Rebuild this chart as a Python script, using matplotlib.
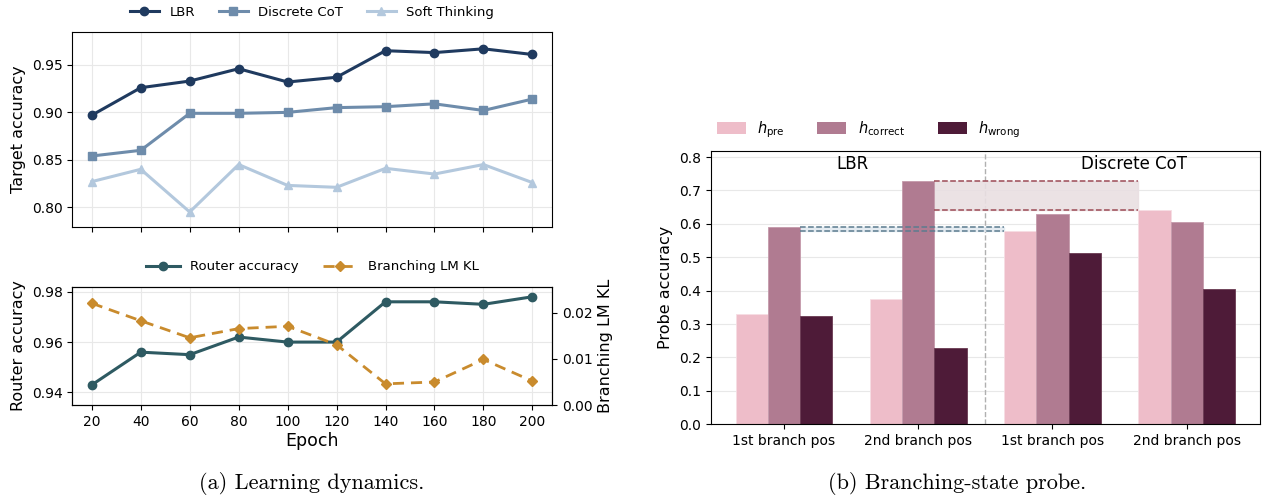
import numpy as np
import matplotlib.pyplot as plt
from matplotlib.patches import Patch

# ---- data ----
epochs = [20, 40, 60, 80, 100, 120, 140, 160, 180, 200]
lbr_acc = [0.897, 0.926, 0.933, 0.946, 0.932, 0.937, 0.965, 0.963, 0.967, 0.961]
cot_acc = [0.854, 0.860, 0.899, 0.899, 0.900, 0.905, 0.906, 0.909, 0.902, 0.914]
soft_acc = [0.827, 0.840, 0.795, 0.845, 0.823, 0.821, 0.841, 0.835, 0.845, 0.826]

router_acc = [0.943, 0.956, 0.955, 0.962, 0.960, 0.960, 0.976, 0.976, 0.975, 0.978]
branch_kl = [0.0221, 0.0183, 0.0146, 0.0166, 0.0171, 0.0131, 0.0046, 0.0050, 0.0099, 0.0052]

probe_groups = ["1st branch pos", "2nd branch pos", "1st branch pos", "2nd branch pos"]
h_pre = [0.331, 0.376, 0.579, 0.640]
h_correct = [0.592, 0.728, 0.629, 0.606]
h_wrong = [0.324, 0.228, 0.514, 0.405]

# ---- style ----
c_lbr, c_cot, c_soft = "#1f3a5f", "#6e8cab", "#b3c8dd"
c_router, c_kl = "#2e5a62", "#c98b2d"
c_pre, c_corr, c_wrong = "#eebdc9", "#b07b91", "#4e1b38"
grid_kw = dict(color="#e8e8e8", linewidth=0.8)

fig = plt.figure(figsize=(12.63, 4.98), dpi=100)

# ---- (a) top: target accuracy ----
ax1 = fig.add_axes([0.0572, 0.5448, 0.3798, 0.3915])
ax1.plot(epochs, lbr_acc, "-o", color=c_lbr, lw=2.2, ms=6, label="LBR")
ax1.plot(epochs, cot_acc, "-s", color=c_cot, lw=2.2, ms=6, label="Discrete CoT")
ax1.plot(epochs, soft_acc, "-^", color=c_soft, lw=2.2, ms=6, label="Soft Thinking")
ax1.set_xlim(12, 208)
ax1.set_ylim(0.7795, 0.985)
ax1.set_xticks(epochs)
ax1.set_xticklabels([])
ax1.set_yticks([0.80, 0.85, 0.90, 0.95])
ax1.set_ylabel("Target accuracy", fontsize=11.5)
ax1.tick_params(labelsize=10)
ax1.grid(True, **grid_kw)
ax1.set_axisbelow(True)
ax1.legend(loc="lower center", bbox_to_anchor=(0.5, 1.04), ncol=3, frameon=False,
           fontsize=9.5, handlelength=2.2, columnspacing=1.8, borderaxespad=0)

# ---- (a) bottom: router accuracy + KL ----
ax2 = fig.add_axes([0.0572, 0.1867, 0.3798, 0.2376])
l1, = ax2.plot(epochs, router_acc, "-o", color=c_router, lw=2.2, ms=6, label="Router accuracy")
ax2.set_xlim(12, 208)
ax2.set_ylim(0.935, 0.982)
ax2.set_xticks(epochs)
ax2.set_yticks([0.94, 0.96, 0.98])
ax2.set_xlabel("Epoch", fontsize=12.5, labelpad=2)
ax2.set_ylabel("Router accuracy", fontsize=11.5)
ax2.tick_params(labelsize=10)
ax2.grid(True, **grid_kw)
ax2.set_axisbelow(True)

ax2b = ax2.twinx()
l2, = ax2b.plot(epochs, branch_kl, "--D", color=c_kl, lw=2.0, ms=5.5,
                dashes=(4, 2.5), label="Branching LM KL")
ax2b.set_ylim(0, 0.0257)
ax2b.set_yticks([0.00, 0.01, 0.02])
ax2b.set_ylabel("Branching LM KL", fontsize=11.5)
ax2b.tick_params(labelsize=10)
ax2.legend([l1, l2], ["Router accuracy", "Branching LM KL"], loc="lower center",
           bbox_to_anchor=(0.5, 1.07), ncol=2, frameon=False, fontsize=9.5,
           handlelength=2.6, columnspacing=1.8, borderaxespad=0)

# ---- (b) branching-state probe ----
ax3 = fig.add_axes([0.5627, 0.148, 0.4349, 0.5488])
x = np.arange(len(probe_groups))
w = 0.24
ax3.bar(x - w, h_pre, w, color=c_pre, edgecolor="#f6dde3", linewidth=0.6, zorder=2)
ax3.bar(x, h_correct, w, color=c_corr, edgecolor="#c49aab", linewidth=0.6, zorder=2)
ax3.bar(x + w, h_wrong, w, color=c_wrong, edgecolor="#6a3a52", linewidth=0.6, zorder=2)
ax3.set_ylim(0, 0.818)
ax3.set_yticks(np.arange(0, 0.81, 0.1))
ax3.set_xticks(x)
ax3.set_xticklabels(probe_groups)
ax3.tick_params(labelsize=10)
ax3.set_ylabel("Probe accuracy", fontsize=11.5)
ax3.grid(True, axis="y", **grid_kw)
ax3.set_axisbelow(True)
ax3.axvline(1.5, color="#b0b0b0", ls="--", lw=1.0, zorder=1)
ax3.text(0.51, 0.78, "LBR", ha="center", va="center", fontsize=12)
ax3.text(2.61, 0.78, "Discrete CoT", ha="center", va="center", fontsize=12)

# gap bands: LBR h_correct vs Discrete CoT h_pre
x0, x1 = x[0] + w / 2, x[2] - 1.5 * w
ax3.fill_between([x0, x1], h_pre[2], h_correct[0], color="#dfe8ef", alpha=0.8, zorder=1.5)
ax3.hlines([h_correct[0], h_pre[2]], x0, x1, colors="#5c7c8f", linestyles="--", lw=1.1, zorder=3)
x0, x1 = x[1] + w / 2, x[3] - 1.5 * w
ax3.fill_between([x0, x1], h_pre[3], h_correct[1], color="#e9dfe2", alpha=0.9, zorder=1.5)
ax3.hlines([h_correct[1], h_pre[3]], x0, x1, colors="#9c4b56", linestyles="--", lw=1.1, zorder=3)

handles = [Patch(facecolor=c_pre), Patch(facecolor=c_corr), Patch(facecolor=c_wrong)]
ax3.legend(handles, [r"$h_{\mathrm{pre}}$", r"$h_{\mathrm{correct}}$", r"$h_{\mathrm{wrong}}$"],
           loc="lower left", bbox_to_anchor=(0.0, 1.02), ncol=3, frameon=False,
           fontsize=10.5, handlelength=2.0, handleheight=0.9, columnspacing=2.2,
           borderaxespad=0)

# ---- captions ----
fig.text(0.247, 0.03, "(a) Learning dynamics.", ha="center", va="center",
         family="cmr10", fontsize=16)
fig.text(0.758, 0.03, "(b) Branching-state probe.", ha="center", va="center",
         family="cmr10", fontsize=16)

fig.savefig("out.png", dpi=100)
